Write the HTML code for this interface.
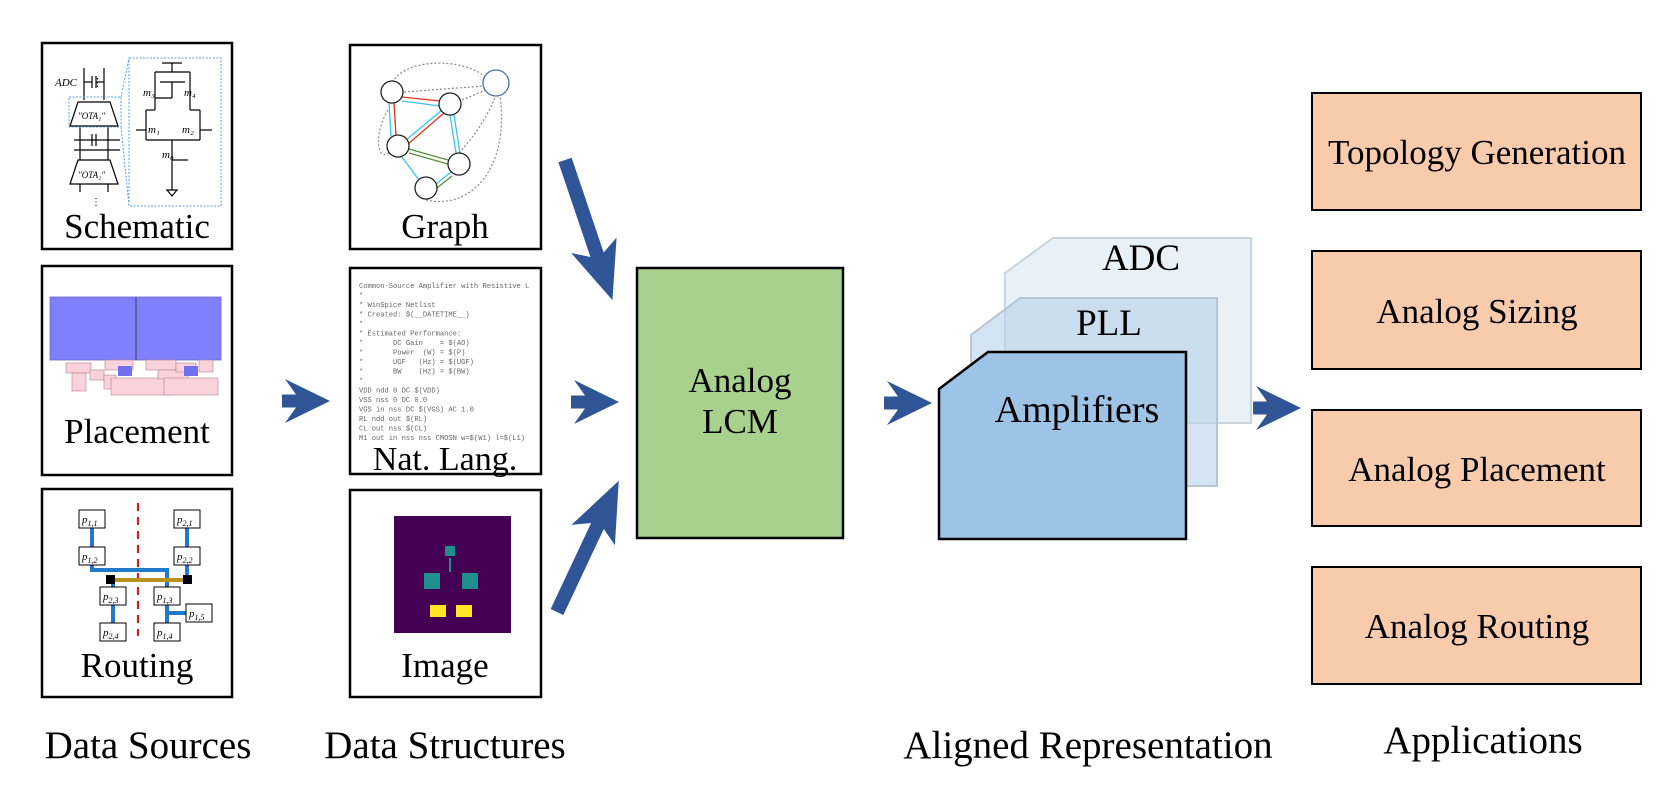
<!DOCTYPE html>
<html><head><meta charset="utf-8"><style>
html,body{margin:0;padding:0;background:#fff;}
svg{display:block;}
text{font-family:"Liberation Serif",serif;fill:#000;}
.m text{font-family:"Liberation Mono",monospace;font-size:7.1px;fill:#666;white-space:pre;}
</style></head><body>
<svg width="1661" height="804" viewBox="0 0 1661 804" xmlns="http://www.w3.org/2000/svg">
<defs>
<polygon id="arrS" points="0,-6.5 14,-6.5 3,-22 48,0 3,22 14,6.5 0,6.5" fill="#2f5597"/>
</defs>
<!-- Data source boxes -->
<rect x="42" y="43" width="190" height="206" fill="#fff" stroke="#000" stroke-width="2.5"/>
<rect x="42" y="266" width="190" height="209" fill="#fff" stroke="#000" stroke-width="2.5"/>
<rect x="42" y="489" width="190" height="208" fill="#fff" stroke="#000" stroke-width="2.5"/>
<!-- schematic content -->
<text x="55" y="86" font-size="11" font-style="italic" font-family="Liberation Mono">ADC</text>
<text x="92" y="86" font-size="11">⋮</text>
<g stroke="#000" stroke-width="1.2" fill="none">
<line x1="84" y1="68" x2="84" y2="100"/><line x1="104" y1="68" x2="104" y2="100"/>
<line x1="84" y1="82" x2="92" y2="82"/><line x1="96" y1="82" x2="104" y2="82"/>
<line x1="92" y1="76" x2="92" y2="88"/><line x1="96" y1="76" x2="96" y2="88"/>
<polygon points="78,102 110,102 118,126 70,126"/>
<line x1="80" y1="126" x2="80" y2="160"/><line x1="108" y1="126" x2="108" y2="160"/>
<line x1="74" y1="140" x2="120" y2="140"/><line x1="74" y1="150" x2="120" y2="150"/>
<line x1="92" y1="134" x2="92" y2="146"/><line x1="96" y1="134" x2="96" y2="146"/>
<polygon points="78,160 110,160 118,184 70,184"/>
<line x1="80" y1="184" x2="80" y2="192"/><line x1="108" y1="184" x2="108" y2="192"/>
</g>
<text x="78" y="119" font-size="9" font-style="italic">"OTA₁"</text>
<text x="78" y="178" font-size="9" font-style="italic">"OTA₂"</text>
<text x="91" y="205" font-size="10">⋮</text>
<g stroke="#5aa0e0" stroke-width="1" stroke-dasharray="2,1.5" fill="none">
<rect x="69" y="97" width="52" height="30"/>
<rect x="129" y="58" width="92" height="148"/>
<line x1="121" y1="97" x2="129" y2="58"/><line x1="121" y1="127" x2="129" y2="206"/>
</g>
<g stroke="#000" stroke-width="1.2" fill="none">
<line x1="162" y1="63" x2="182" y2="63"/><line x1="172" y1="63" x2="172" y2="72"/>
<line x1="155" y1="72" x2="190" y2="72"/>
<line x1="155" y1="72" x2="155" y2="110"/><line x1="190" y1="72" x2="190" y2="110"/>
<line x1="160" y1="82" x2="185" y2="82"/><line x1="172" y1="82" x2="172" y2="98"/><line x1="155" y1="98" x2="172" y2="98"/>
<line x1="146" y1="110" x2="155" y2="110"/><line x1="190" y1="110" x2="200" y2="110"/>
<line x1="146" y1="110" x2="146" y2="140"/><line x1="200" y1="110" x2="200" y2="140"/>
<line x1="136" y1="130" x2="146" y2="130"/><line x1="200" y1="130" x2="212" y2="130"/>
<line x1="146" y1="140" x2="172" y2="140"/><line x1="200" y1="140" x2="172" y2="140"/>
<line x1="172" y1="140" x2="172" y2="170"/><line x1="172" y1="160" x2="188" y2="160"/>
<line x1="172" y1="170" x2="172" y2="190"/><polygon points="167,190 177,190 172,196"/>
</g>
<text x="143" y="96" font-size="11" font-style="italic">m₃</text>
<text x="184" y="96" font-size="11" font-style="italic">m₄</text>
<text x="148" y="133" font-size="11" font-style="italic">m₁</text>
<text x="182" y="133" font-size="11" font-style="italic">m₂</text>
<text x="162" y="158" font-size="11" font-style="italic">m₀</text>
<text x="137" y="238" font-size="35" text-anchor="middle">Schematic</text>
<!-- placement -->
<rect x="50" y="297" width="171" height="63" fill="#8080ff" stroke="#6666cc" stroke-width="0.8"/>
<line x1="136" y1="297" x2="136" y2="360" stroke="#444" stroke-width="1"/>
<g fill="#fad2dc" stroke="#b08090" stroke-width="0.6">
<rect x="66" y="363" width="25" height="10"/><rect x="72" y="373" width="14" height="18"/>
<rect x="90" y="370" width="14" height="10"/><rect x="104" y="375" width="12" height="14"/>
<rect x="105" y="360" width="28" height="10"/><rect x="111" y="378" width="60" height="17"/>
<rect x="146" y="360" width="30" height="10"/><rect x="158" y="370" width="30" height="9"/>
<rect x="176" y="363" width="20" height="9"/><rect x="164" y="378" width="54" height="17"/>
<rect x="199" y="360" width="14" height="12"/>
</g>
<rect x="118" y="366" width="14" height="10" fill="#7070f0"/><rect x="184" y="366" width="14" height="10" fill="#7070f0"/>
<text x="137" y="443" font-size="35" text-anchor="middle">Placement</text>
<!-- routing -->
<line x1="138" y1="503" x2="138" y2="636" stroke="#cc1f1f" stroke-width="2.2" stroke-dasharray="8,6"/>
<g stroke="#1f7acc" stroke-width="4" fill="none">
<polyline points="92,519 92,556 92,570 167,570 167,596"/>
<line x1="187" y1="519" x2="187" y2="580"/>
<line x1="113" y1="580" x2="113" y2="632"/>
<line x1="167" y1="596" x2="167" y2="632"/>
<line x1="167" y1="613" x2="192" y2="613"/>
</g>
<line x1="111" y1="580" x2="187" y2="580" stroke="#b8921a" stroke-width="4"/>
<rect x="106" y="575" width="9" height="9" fill="#000"/><rect x="183" y="575" width="9" height="9" fill="#000"/>
<g fill="#fff" stroke="#000" stroke-width="1">
<rect x="79" y="510" width="26" height="18"/><rect x="174" y="510" width="26" height="18"/>
<rect x="79" y="547" width="26" height="18"/><rect x="174" y="547" width="26" height="18"/>
<rect x="100" y="587" width="26" height="18"/><rect x="154" y="587" width="26" height="18"/>
<rect x="186" y="604" width="26" height="18"/>
<rect x="100" y="623" width="26" height="18"/><rect x="154" y="623" width="26" height="18"/>
</g>
<g font-size="11" font-style="italic">
<text x="82" y="523">p<tspan font-size="8" dy="3">1,1</tspan></text>
<text x="177" y="523">p<tspan font-size="8" dy="3">2,1</tspan></text>
<text x="82" y="560">p<tspan font-size="8" dy="3">1,2</tspan></text>
<text x="177" y="560">p<tspan font-size="8" dy="3">2,2</tspan></text>
<text x="103" y="600">p<tspan font-size="8" dy="3">2,3</tspan></text>
<text x="157" y="600">p<tspan font-size="8" dy="3">1,3</tspan></text>
<text x="189" y="617">p<tspan font-size="8" dy="3">1,5</tspan></text>
<text x="103" y="636">p<tspan font-size="8" dy="3">2,4</tspan></text>
<text x="157" y="636">p<tspan font-size="8" dy="3">1,4</tspan></text>
</g>
<text x="137" y="677" font-size="35" text-anchor="middle">Routing</text>
<!-- data structure boxes -->
<rect x="350" y="45" width="191" height="204" fill="#fff" stroke="#000" stroke-width="2.5"/>
<rect x="350" y="268" width="191" height="206" fill="#fff" stroke="#000" stroke-width="2.5"/>
<rect x="350" y="490" width="191" height="207" fill="#fff" stroke="#000" stroke-width="2.5"/>
<!-- graph -->
<g fill="none" stroke="#888" stroke-width="1.2" stroke-dasharray="2,2">
<path d="M392,82 C410,55 470,60 486,78"/>
<line x1="404" y1="92" x2="484" y2="86"/>
<line x1="462" y1="100" x2="486" y2="90"/>
<path d="M459,153 C480,130 490,110 496,95"/>
<path d="M388,110 C370,140 380,175 398,140"/>
<path d="M426,200 C470,210 510,170 500,95"/>
</g>
<g stroke-width="1.3" fill="none">
<line x1="402" y1="97" x2="440" y2="101" stroke="#d32"/><line x1="402" y1="101" x2="440" y2="106" stroke="#3bc4f0"/>
<line x1="389" y1="103" x2="391" y2="136" stroke="#3bc4f0"/><line x1="394" y1="103" x2="396" y2="136" stroke="#d32"/>
<line x1="406" y1="140" x2="442" y2="110" stroke="#3bc4f0"/><line x1="408" y1="144" x2="444" y2="113" stroke="#d32"/>
<line x1="450" y1="115" x2="456" y2="153" stroke="#3bc4f0"/><line x1="454" y1="115" x2="460" y2="153" stroke="#3bc4f0"/>
<line x1="409" y1="149" x2="448" y2="160" stroke="#5a8f3a"/><line x1="409" y1="153" x2="448" y2="164" stroke="#5a8f3a"/>
<line x1="402" y1="157" x2="419" y2="180" stroke="#3bc4f0"/>
<line x1="436" y1="184" x2="451" y2="172" stroke="#3bc4f0"/><line x1="437" y1="188" x2="452" y2="176" stroke="#5a8f3a"/>
</g>
<g fill="#fff" stroke="#222" stroke-width="1.3">
<circle cx="392" cy="92" r="11"/><circle cx="450" cy="104" r="11"/><circle cx="398" cy="146" r="11"/>
<circle cx="459" cy="164" r="11"/><circle cx="426" cy="188" r="11"/>
</g>
<circle cx="496" cy="83" r="13" fill="#fff" stroke="#4a6fb0" stroke-width="1.3"/>
<text x="445" y="238" font-size="35" text-anchor="middle">Graph</text>
<!-- netlist -->
<g class="m" xml:space="preserve">
<text x="359" y="288">Common-Source Amplifier with Resistive L</text>
<text x="359" y="297.5">*</text>
<text x="359" y="307">* WinSpice Netlist</text>
<text x="359" y="316.5">* Created: $(__DATETIME__)</text>
<text x="359" y="326">*</text>
<text x="359" y="335.5">* Estimated Performance:</text>
<text x="359" y="345">*       DC Gain    = $(AO)</text>
<text x="359" y="354.5">*       Power  (W) = $(P)</text>
<text x="359" y="364">*       UGF   (Hz) = $(UGF)</text>
<text x="359" y="373.5">*       BW    (Hz) = $(BW)</text>
<text x="359" y="383">*</text>
<text x="359" y="392.5">VDD ndd 0 DC $(VDD)</text>
<text x="359" y="402">VSS nss 0 DC 0.0</text>
<text x="359" y="411.5">VGS in nss DC $(VGS) AC 1.0</text>
<text x="359" y="421">RL ndd out $(RL)</text>
<text x="359" y="430.5">CL out nss $(CL)</text>
<text x="359" y="440">M1 out in nss nss CMOSN w=$(W1) l=$(L1)</text>
</g>
<text x="445" y="470" font-size="34" text-anchor="middle">Nat. Lang.</text>
<!-- image -->
<rect x="394" y="516" width="117" height="117" fill="#440154"/>
<line x1="450" y1="558" x2="450" y2="572" stroke="#21908d" stroke-width="2"/>
<rect x="445" y="546" width="10" height="10" fill="#21908d"/>
<rect x="424" y="573" width="16" height="16" fill="#21908d"/>
<rect x="462" y="573" width="16" height="16" fill="#21908d"/>
<rect x="430" y="605" width="16" height="12" fill="#fde725"/>
<rect x="456" y="605" width="16" height="12" fill="#fde725"/>
<text x="445" y="677" font-size="35" text-anchor="middle">Image</text>
<!-- arrows -->
<use href="#arrS" x="282" y="401"/>
<use href="#arrS" x="571" y="402"/>
<use href="#arrS" x="884" y="403"/>
<use href="#arrS" x="1253" y="408"/>
<polygon points="0,-7 100,-7 90,-24 148,0 90,24 100,7 0,7" fill="#2f5597" transform="translate(565,160) rotate(71.3)"/>
<polygon points="0,-7 95,-7 85,-24 145,0 85,24 95,7 0,7" fill="#2f5597" transform="translate(557,612) rotate(-64.8)"/>
<!-- LCM -->
<rect x="637" y="268" width="206" height="270" fill="#a9d18e" stroke="#000" stroke-width="2.5"/>
<text x="740" y="392" font-size="35" text-anchor="middle">Analog</text>
<text x="740" y="433" font-size="35" text-anchor="middle">LCM</text>
<!-- stacked cards -->
<polygon points="1053,238 1251,238 1251,423 1005,423 1005,273" fill="#dce8f4" fill-opacity="0.65" stroke="#c8d4de" stroke-width="2"/>
<text x="1141" y="270" font-size="37" text-anchor="middle">ADC</text>
<polygon points="1020,298 1217,298 1217,486 971,486 971,335" fill="#b8d2ea" fill-opacity="0.6" stroke="#b8c6d2" stroke-width="2"/>
<text x="1109" y="335" font-size="37" text-anchor="middle">PLL</text>
<polygon points="988,352 1186,352 1186,539 939,539 939,389" fill="#9dc3e6" stroke="#000" stroke-width="2.5"/>
<text x="1077" y="422" font-size="38" text-anchor="middle">Amplifiers</text>
<!-- applications -->
<g fill="#f8cbad" stroke="#000" stroke-width="2">
<rect x="1312" y="93" width="329" height="117"/>
<rect x="1312" y="251" width="329" height="118"/>
<rect x="1312" y="410" width="329" height="116"/>
<rect x="1312" y="567" width="329" height="117"/>
</g>
<g font-size="35" text-anchor="middle">
<text x="1477" y="164">Topology Generation</text>
<text x="1477" y="323">Analog Sizing</text>
<text x="1477" y="481">Analog Placement</text>
<text x="1477" y="638">Analog Routing</text>
</g>
<!-- bottom labels -->
<g font-size="39" text-anchor="middle">
<text x="148" y="758">Data Sources</text>
<text x="445" y="758">Data Structures</text>
<text x="1088" y="758">Aligned Representation</text>
<text x="1483" y="753">Applications</text>
</g>
</svg>
</body></html>
